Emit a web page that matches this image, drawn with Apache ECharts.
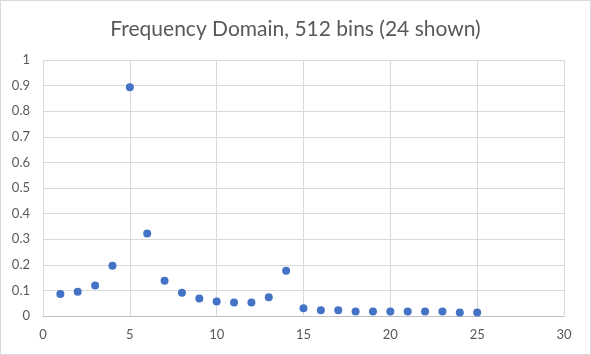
<!DOCTYPE html>
<html>
<head>
<meta charset="utf-8">
<script src="https://cdn.jsdelivr.net/npm/echarts@6/dist/echarts.min.js"></script>
<style>
html,body{margin:0;padding:0;background:#fff;}
#c{width:591px;height:355px;box-sizing:border-box;border:1px solid #d9d9d9;}
</style>
</head>
<body>
<div id="c"></div>
<script>
var titleText = "Frequency Domain, 512 bins (24 shown)";
var binIndex = [1,2,3,4,5,6,7,8,9,10,11,12,13,14,15,16,17,18,19,20,21,22,23,24,25];
var magnitude = [0.086,0.095,0.119,0.196,0.894,0.322,0.138,0.091,0.068,0.057,0.053,0.053,0.073,0.177,0.030,0.022,0.022,0.018,0.018,0.018,0.018,0.018,0.018,0.014,0.014];
var xTicks = [0,5,10,15,20,25,30];
var yTicks = [0,0.1,0.2,0.3,0.4,0.5,0.6,0.7,0.8,0.9,1];

var pts = binIndex.map(function(x,i){return [x, magnitude[i]];});
var chart = echarts.init(document.getElementById('c'), null, {renderer:'canvas'});
var font = 'Lato, "Liberation Sans", sans-serif';
chart.setOption({
  animation:false,
  title:{text:titleText,left:'center',top:13,textStyle:{fontFamily:font,fontSize:21,fontWeight:'normal',color:'#595959'}},
  grid:{left:42,right:26,top:59,bottom:38},
  xAxis:{type:'value',min:xTicks[0],max:xTicks[xTicks.length-1],interval:5,
    axisLine:{show:true,lineStyle:{color:'#bfbfbf'}},axisTick:{show:false},
    axisLabel:{margin:12,color:'#595959',fontFamily:font,fontSize:13},
    splitLine:{show:true,lineStyle:{color:'#d9d9d9'}}},
  yAxis:{type:'value',min:yTicks[0],max:yTicks[yTicks.length-1],interval:0.1,
    axisLine:{show:false},axisTick:{show:false},
    axisLabel:{margin:13,color:'#595959',fontFamily:font,fontSize:13,formatter:function(v){return String(Math.round(v*10)/10);}},
    splitLine:{show:true,lineStyle:{color:'#d9d9d9'}}},
  series:[{type:'scatter',data:pts,symbolSize:8,itemStyle:{color:'#4472c4',opacity:1}}]
});
</script>
</body>
</html>
